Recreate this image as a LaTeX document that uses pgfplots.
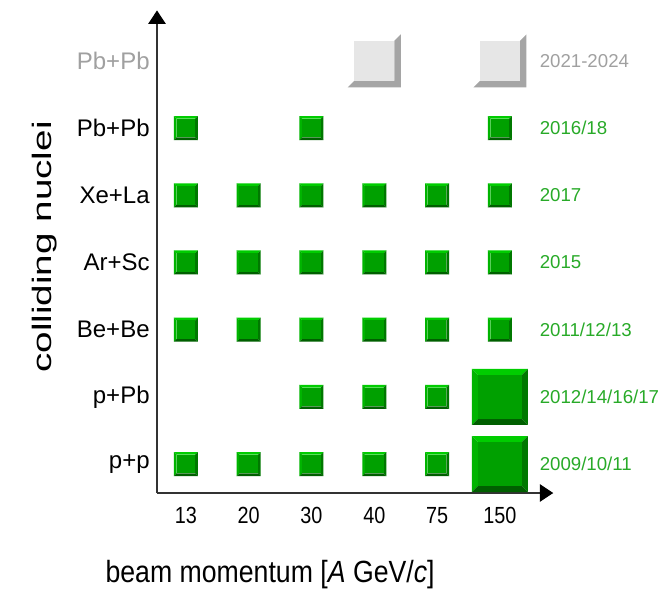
\documentclass[border=0pt]{standalone}
\usepackage{fontspec}
\setmainfont{Liberation Sans}
\usepackage{graphicx}
\usepackage{pgfplots}
\pgfplotsset{compat=1.18}
\usetikzlibrary{arrows.meta}

\definecolor{gtop}{RGB}{0,205,0}
\definecolor{gleft}{RGB}{0,180,0}
\definecolor{gface}{RGB}{0,160,0}
\definecolor{gright}{RGB}{0,120,0}
\definecolor{gbot}{RGB}{0,95,0}
\definecolor{qface}{RGB}{230,230,230}
\definecolor{qshade}{RGB}{165,165,165}
\definecolor{ygreen}{RGB}{40,170,40}
\definecolor{tgrey}{RGB}{160,160,160}

% bevelled green box
\pgfdeclareplotmark{gbox}{%
  \pgfmathsetlengthmacro\gs{\pgfplotmarksize}%
  \pgfmathsetlengthmacro\gi{0.78*\pgfplotmarksize}%
  \pgfsetfillcolor{gtop}%
  \pgfpathmoveto{\pgfpoint{-\gs}{\gs}}\pgfpathlineto{\pgfpoint{\gs}{\gs}}%
  \pgfpathlineto{\pgfpoint{\gi}{\gi}}\pgfpathlineto{\pgfpoint{-\gi}{\gi}}\pgfpathclose
  \pgfusepath{fill}%
  \pgfsetfillcolor{gleft}%
  \pgfpathmoveto{\pgfpoint{-\gs}{\gs}}\pgfpathlineto{\pgfpoint{-\gi}{\gi}}%
  \pgfpathlineto{\pgfpoint{-\gi}{-\gi}}\pgfpathlineto{\pgfpoint{-\gs}{-\gs}}\pgfpathclose
  \pgfusepath{fill}%
  \pgfsetfillcolor{gright}%
  \pgfpathmoveto{\pgfpoint{\gs}{\gs}}\pgfpathlineto{\pgfpoint{\gs}{-\gs}}%
  \pgfpathlineto{\pgfpoint{\gi}{-\gi}}\pgfpathlineto{\pgfpoint{\gi}{\gi}}\pgfpathclose
  \pgfusepath{fill}%
  \pgfsetfillcolor{gbot}%
  \pgfpathmoveto{\pgfpoint{-\gs}{-\gs}}\pgfpathlineto{\pgfpoint{-\gi}{-\gi}}%
  \pgfpathlineto{\pgfpoint{\gi}{-\gi}}\pgfpathlineto{\pgfpoint{\gs}{-\gs}}\pgfpathclose
  \pgfusepath{fill}%
  \pgfsetfillcolor{gface}%
  \pgfpathrectanglecorners{\pgfpoint{-\gi}{-\gi}}{\pgfpoint{\gi}{\gi}}%
  \pgfusepath{fill}%
}

% grey box with a shadow edge
\pgfdeclareplotmark{qbox}{%
  \pgfmathsetlengthmacro\gs{\pgfplotmarksize}%
  \pgfmathsetlengthmacro\gd{1.33*\pgfplotmarksize}%
  \pgfsetfillcolor{qshade}%
  \pgfpathmoveto{\pgfpoint{\gs}{\gs}}\pgfpathlineto{\pgfpoint{\gd}{\gd}}%
  \pgfpathlineto{\pgfpoint{\gd}{-\gd}}\pgfpathlineto{\pgfpoint{-\gd}{-\gd}}%
  \pgfpathlineto{\pgfpoint{-\gs}{-\gs}}\pgfpathlineto{\pgfpoint{\gs}{-\gs}}\pgfpathclose
  \pgfusepath{fill}%
  \pgfsetfillcolor{qface}%
  \pgfpathrectanglecorners{\pgfpoint{-\gs}{-\gs}}{\pgfpoint{\gs}{\gs}}%
  \pgfusepath{fill}%
}

\newcommand{\xt}[1]{\scalebox{0.85}[1]{#1}}

\begin{document}
\begin{tikzpicture}
\path[use as bounding box] (-117.75pt,-80.25pt) rectangle (382.5pt,369.75pt);
\begin{axis}[
  scale only axis, width=297.2pt, height=361.9pt,
  xmin=-0.46, xmax=5.85, ymin=-0.43, ymax=6.75,
  axis lines=left,
  axis line style={black!80, line width=0.9pt, -{Triangle[length=10pt,width=13pt,fill=black,color=black]}},
  xtick={0,...,5}, xticklabels={\xt{13},\xt{20},\xt{30},\xt{40},\xt{75},\xt{150}},
  ytick={0,...,6},
  yticklabels={p+p,p+Pb,Be+Be,Ar+Sc,Xe+La,Pb+Pb,\textcolor{tgrey}{Pb+Pb}},
  major tick length=0pt,
  xticklabel style={font=\fontsize{17.5}{20}\selectfont, yshift=-7pt},
  yticklabel style={font=\fontsize{18}{21}\selectfont, xshift=-2pt},
  clip=false,
]
% small runs
\addplot[only marks, mark=gbox, mark size=9pt] coordinates {
  (0,0) (1,0) (2,0) (3,0) (4,0)
  (2,1) (3,1) (4,1)
  (0,2) (1,2) (2,2) (3,2) (4,2) (5,2)
  (0,3) (1,3) (2,3) (3,3) (4,3) (5,3)
  (0,4) (1,4) (2,4) (3,4) (4,4) (5,4)
  (0,5) (2,5) (5,5)
};
% large runs at 150
\addplot[only marks, mark=gbox, mark size=21pt] coordinates {(5,0) (5,1)};
% planned
\addplot[only marks, mark=qbox, mark size=15pt] coordinates {(3,6) (5,6)};

\begin{scope}[every node/.style={anchor=west, text=ygreen, font=\fontsize{14}{17}\selectfont}]
\node at (axis cs:5.56,0) {2009/10/11};
\node at (axis cs:5.56,1) {2012/14/16/17};
\node at (axis cs:5.56,2) {2011/12/13};
\node at (axis cs:5.56,3) {2015};
\node at (axis cs:5.56,4) {2017};
\node at (axis cs:5.56,5) {2016/18};
\node[text=tgrey] at (axis cs:5.56,6) {2021-2024};
\end{scope}

\node[font=\fontsize{20}{24}\selectfont] at (axis cs:1.34,-1.65)
  {\scalebox{1}[1.15]{beam momentum [\textit{A} GeV/\textit{c}]}};
\node[rotate=90, font=\fontsize{20}{24}\selectfont] at (axis cs:-2.25,3.23)
  {\scalebox{1.45}[1]{colliding nuclei}};
\end{axis}
\end{tikzpicture}
\end{document}
